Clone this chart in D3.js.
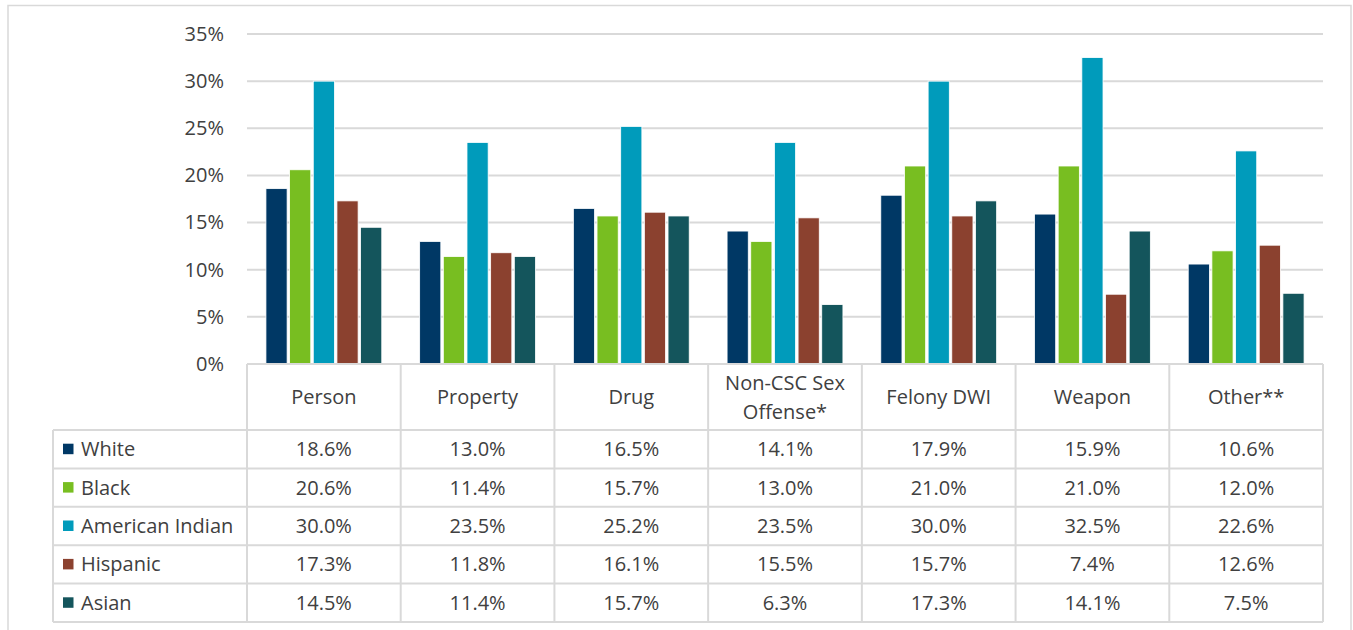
<!DOCTYPE html>
<html>
<head>
<meta charset="utf-8">
<script src="https://cdn.jsdelivr.net/npm/d3@7"></script>
<style>
  body { margin: 0; background: #fff; }
  svg { display: block; font-family: "Open Sans", Lato, sans-serif; }
</style>
</head>
<body>
<div id="chart"></div>
<script>
// categories and series
var categories = ["Person", "Property", "Drug", "Non-CSC Sex Offense*", "Felony DWI", "Weapon", "Other**"];
var headerLines = [["Person"], ["Property"], ["Drug"], ["Non-CSC Sex", "Offense*"], ["Felony DWI"], ["Weapon"], ["Other**"]];
var groups = ["White", "Black", "American Indian", "Hispanic", "Asian"];
var colors = ["#003865", "#78be21", "#009bbb", "#8b412f", "#14555c"];

var white = [18.6, 13.0, 16.5, 14.1, 17.9, 15.9, 10.6];
var black = [20.6, 11.4, 15.7, 13.0, 21.0, 21.0, 12.0];
var amIndian = [30.0, 23.5, 25.2, 23.5, 30.0, 32.5, 22.6];
var hispanic = [17.3, 11.8, 16.1, 15.5, 15.7, 7.4, 12.6];
var asian = [14.5, 11.4, 15.7, 6.3, 17.3, 14.1, 7.5];
var series = [white, black, amIndian, hispanic, asian];

var yTicks = [0, 5, 10, 15, 20, 25, 30, 35];

var width = 1353, height = 630;
var plotLeft = 247, plotRight = 1323, plotTop = 34, plotBottom = 364;
var tableLeft = 53, headerH = 66, rowH = 38.4;
var grey = "#d9d9d9", textColor = "#404040";
var fontSize = "20px";

var svg = d3.select("#chart").append("svg")
    .attr("width", width)
    .attr("height", height);

// outer frame
svg.append("rect")
    .attr("x", 8).attr("y", 5.5)
    .attr("width", 1343).attr("height", 640)
    .attr("fill", "none")
    .attr("stroke", grey)
    .attr("stroke-width", 1.5);

var x0 = d3.scaleBand()
    .domain(categories)
    .range([plotLeft, plotRight]);

var x1 = d3.scaleBand()
    .domain(groups)
    .range([0, x0.bandwidth()])
    .paddingInner(0.105)
    .paddingOuter(0.8);

var y = d3.scaleLinear()
    .domain([0, 35])
    .range([plotBottom, plotTop]);

// gridlines
svg.append("g")
    .selectAll("line")
    .data(yTicks.filter(function(d) { return d > 0; }))
    .enter()
    .append("line")
        .attr("x1", plotLeft).attr("x2", plotRight)
        .attr("y1", function(d) { return y(d); })
        .attr("y2", function(d) { return y(d); })
        .attr("stroke", grey)
        .attr("stroke-width", 2);

// y axis labels
var yAxis = d3.axisLeft(y)
    .tickValues(yTicks)
    .tickFormat(function(d) { return d + "%"; })
    .tickSize(0)
    .tickPadding(23);
var yg = svg.append("g")
    .attr("transform", "translate(" + plotLeft + ",0)")
    .call(yAxis);
yg.select(".domain").remove();
yg.selectAll("text")
    .attr("fill", textColor)
    .style("font-size", fontSize)
    .style("font-family", "'Open Sans', sans-serif");

// bars
var rows = [];
categories.forEach(function(c, i) {
    groups.forEach(function(g, j) {
        rows.push({cat: c, group: g, gi: j, val: series[j][i]});
    });
});

svg.append("g")
    .selectAll("rect")
    .data(rows)
    .enter()
    .append("rect")
        .attr("x", function(d) { return x0(d.cat) + x1(d.group); })
        .attr("y", function(d) { return y(d.val); })
        .attr("width", x1.bandwidth())
        .attr("height", function(d) { return y(0) - y(d.val); })
        .attr("fill", function(d) { return colors[d.gi]; })
        .attr("stroke", "#fff")
        .attr("stroke-width", 0.8);

// data table
var tableBottom = plotBottom + headerH + rowH * groups.length;
var table = svg.append("g")
    .attr("fill", "none")
    .attr("stroke", grey)
    .attr("stroke-width", 2);

table.append("line")
    .attr("x1", plotLeft).attr("x2", plotRight)
    .attr("y1", plotBottom).attr("y2", plotBottom);
var colEdges = categories.map(function(c) { return x0(c); }).concat([plotRight]);
table.selectAll(".vcol")
    .data(colEdges)
    .enter()
    .append("line")
        .attr("x1", function(d) { return d; })
        .attr("x2", function(d) { return d; })
        .attr("y1", plotBottom)
        .attr("y2", tableBottom);
table.append("line")
    .attr("x1", tableLeft).attr("x2", tableLeft)
    .attr("y1", plotBottom + headerH).attr("y2", tableBottom);
table.selectAll(".hrow")
    .data(d3.range(groups.length + 1))
    .enter()
    .append("line")
        .attr("x1", tableLeft).attr("x2", plotRight)
        .attr("y1", function(i) { return plotBottom + headerH + i * rowH; })
        .attr("y2", function(i) { return plotBottom + headerH + i * rowH; });

// header text
var header = svg.append("g")
    .selectAll("text")
    .data(categories)
    .enter()
    .append("text")
        .attr("x", function(c) { return x0(c) + x0.bandwidth() / 2; })
        .attr("y", function(c, i) {
            var n = headerLines[i].length;
            return plotBottom + headerH / 2 - (n - 1) * 14.5 + 7;
        })
        .attr("text-anchor", "middle")
        .attr("fill", textColor)
        .style("font-size", fontSize);
header.each(function(c, i) {
    var t = d3.select(this);
    headerLines[i].forEach(function(line, k) {
        t.append("tspan")
            .attr("x", x0(c) + x0.bandwidth() / 2)
            .attr("dy", k === 0 ? 0 : 29)
            .text(line);
    });
});

// legend column
var legend = svg.append("g")
    .selectAll("g")
    .data(groups)
    .enter()
    .append("g")
        .attr("transform", function(d, i) {
            return "translate(0," + (plotBottom + headerH + (i + 0.5) * rowH) + ")";
        });
legend.append("rect")
    .attr("x", 63).attr("y", -5.5)
    .attr("width", 10.5).attr("height", 10.5)
    .attr("fill", function(d, i) { return colors[i]; });
legend.append("text")
    .attr("x", 81).attr("y", 7)
    .attr("fill", textColor)
    .style("font-size", fontSize)
    .text(function(d) { return d; });

// value cells
svg.append("g")
    .selectAll("text")
    .data(rows)
    .enter()
    .append("text")
        .attr("x", function(d) { return x0(d.cat) + x0.bandwidth() / 2; })
        .attr("y", function(d) { return plotBottom + headerH + (d.gi + 0.5) * rowH + 7; })
        .attr("text-anchor", "middle")
        .attr("fill", textColor)
        .style("font-size", fontSize)
        .text(function(d) { return d.val.toFixed(1) + "%"; });
</script>
</body>
</html>
